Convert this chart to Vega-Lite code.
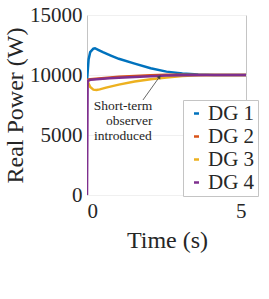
{
  "$schema": "https://vega.github.io/schema/vega-lite/v6.json",
  "width": 159,
  "height": 180,
  "autosize": {"type": "none"},
  "padding": {"left": 87, "top": 15, "right": 23, "bottom": 104},
  "background": "white",
  "config": {
    "font": "Liberation Serif",
    "view": {"stroke": "#c4c4c4", "strokeWidth": 1},
    "axis": {
      "domain": false,
      "ticks": false,
      "labelFont": "'Liberation Serif', serif",
      "labelColor": "#262626",
      "titleColor": "#262626",
      "titleFontWeight": "normal",
      "gridColor": "#f0f0f0",
      "gridWidth": 1
    },
    "legend": {"labelFont": "'Liberation Serif', serif"}
  },
  "datasets": {
    "series": [
      {"t": 0, "p": 9500, "s": "DG 1"},
      {"t": 0.05, "p": 11300, "s": "DG 1"},
      {"t": 0.1, "p": 11900, "s": "DG 1"},
      {"t": 0.2, "p": 12200, "s": "DG 1"},
      {"t": 0.25, "p": 12230, "s": "DG 1"},
      {"t": 0.35, "p": 12100, "s": "DG 1"},
      {"t": 0.5, "p": 11900, "s": "DG 1"},
      {"t": 0.75, "p": 11620, "s": "DG 1"},
      {"t": 1, "p": 11350, "s": "DG 1"},
      {"t": 1.5, "p": 10950, "s": "DG 1"},
      {"t": 2, "p": 10560, "s": "DG 1"},
      {"t": 2.5, "p": 10280, "s": "DG 1"},
      {"t": 3, "p": 10120, "s": "DG 1"},
      {"t": 3.5, "p": 10050, "s": "DG 1"},
      {"t": 4, "p": 10010, "s": "DG 1"},
      {"t": 5, "p": 10000, "s": "DG 1"},
      {"t": 0, "p": 9600, "s": "DG 2"},
      {"t": 0.1, "p": 9650, "s": "DG 2"},
      {"t": 1, "p": 9850, "s": "DG 2"},
      {"t": 2, "p": 9980, "s": "DG 2"},
      {"t": 2.5, "p": 10020, "s": "DG 2"},
      {"t": 3, "p": 10015, "s": "DG 2"},
      {"t": 4, "p": 10000, "s": "DG 2"},
      {"t": 5, "p": 10000, "s": "DG 2"},
      {"t": 0, "p": 9600, "s": "DG 3"},
      {"t": 0.05, "p": 9300, "s": "DG 3"},
      {"t": 0.1, "p": 9000, "s": "DG 3"},
      {"t": 0.2, "p": 8780, "s": "DG 3"},
      {"t": 0.3, "p": 8750, "s": "DG 3"},
      {"t": 0.4, "p": 8800, "s": "DG 3"},
      {"t": 0.6, "p": 8950, "s": "DG 3"},
      {"t": 1, "p": 9200, "s": "DG 3"},
      {"t": 1.5, "p": 9450, "s": "DG 3"},
      {"t": 2, "p": 9650, "s": "DG 3"},
      {"t": 2.5, "p": 9800, "s": "DG 3"},
      {"t": 3, "p": 9920, "s": "DG 3"},
      {"t": 3.5, "p": 9970, "s": "DG 3"},
      {"t": 4, "p": 10000, "s": "DG 3"},
      {"t": 5, "p": 10000, "s": "DG 3"},
      {"t": 0, "p": 0, "s": "DG 4"},
      {"t": 0.02, "p": 9500, "s": "DG 4"},
      {"t": 0.1, "p": 9600, "s": "DG 4"},
      {"t": 0.3, "p": 9650, "s": "DG 4"},
      {"t": 0.7, "p": 9720, "s": "DG 4"},
      {"t": 1, "p": 9780, "s": "DG 4"},
      {"t": 1.5, "p": 9840, "s": "DG 4"},
      {"t": 2, "p": 9900, "s": "DG 4"},
      {"t": 2.5, "p": 9950, "s": "DG 4"},
      {"t": 3, "p": 9980, "s": "DG 4"},
      {"t": 4, "p": 10000, "s": "DG 4"},
      {"t": 5, "p": 10000, "s": "DG 4"}
    ],
    "note": [
      {"t": 1.13, "p": 7417, "label": "Short-term"},
      {"t": 1.33, "p": 6167, "label": "observer"},
      {"t": 1.13, "p": 4917, "label": "introduced"}
    ],
    "arrow": [
      {"t": 1.76, "p": 7917, "t2": 2.28, "p2": 9850}
    ]
  },
  "layer": [
    {
      "data": {"name": "series"},
      "mark": {"type": "line", "strokeWidth": 2.5, "clip": true},
      "encoding": {
        "x": {
          "field": "t", "type": "quantitative",
          "scale": {"domain": [0, 5], "nice": false},
          "axis": {
            "values": [0, 5], "format": "d", "title": "Time (s)", "labelPadding": 5,
            "labelFont": "'Liberation Serif', serif", "labelFontSize": 21,
            "titleFont": "Liberation Serif", "titleFontSize": 24,
            "grid": false, "titleX": 80, "titleY": 52, "titleBaseline": "alphabetic"
          }
        },
        "y": {
          "field": "p", "type": "quantitative",
          "scale": {"domain": [0, 15000], "nice": false},
          "axis": {
            "values": [0, 5000, 10000, 15000], "format": "d", "title": "Real Power (W)",
            "labelFont": "'Liberation Serif', serif", "labelFontSize": 21,
            "titleFont": "Liberation Serif", "titleFontSize": 24,
            "labelPadding": 5, "grid": true,
            "titleX": -65, "titleY": 90, "titleAngle": -90, "titleBaseline": "alphabetic", "titleAlign": "center"
          }
        },
        "color": {
          "field": "s", "type": "nominal",
          "scale": {"domain": ["DG 1", "DG 2", "DG 3", "DG 4"], "range": ["#0072BD", "#D95319", "#EDB120", "#7E2F8E"]},
          "legend": {
            "title": null, "orient": "none", "legendX": 96, "legendY": 85,
            "labelFont": "'Liberation Serif', serif", "labelFontSize": 21, "labelColor": "#262626",
            "symbolType": "stroke", "symbolSize": 25, "symbolStrokeWidth": 2.5,
            "labelOffset": 1, "rowPadding": 1, "padding": 3,
            "strokeColor": "#c4c4c4", "fillColor": "white"
          }
        },
        "order": {"field": "t", "type": "quantitative"}
      }
    },
    {
      "data": {"name": "note"},
      "mark": {"type": "text", "fontSize": 13.5, "font": "Liberation Serif", "color": "#262626", "align": "center", "baseline": "middle"},
      "encoding": {
        "x": {"field": "t", "type": "quantitative"},
        "y": {"field": "p", "type": "quantitative"},
        "text": {"field": "label"}
      }
    },
    {
      "data": {"name": "arrow"},
      "mark": {"type": "rule", "color": "#404040", "strokeWidth": 0.8},
      "encoding": {
        "x": {"field": "t", "type": "quantitative"},
        "y": {"field": "p", "type": "quantitative"},
        "x2": {"field": "t2"},
        "y2": {"field": "p2"}
      }
    },
    {
      "data": {"name": "arrow"},
      "mark": {"type": "point", "shape": "triangle-up", "filled": true, "color": "#404040", "size": 18, "angle": 35, "opacity": 1},
      "encoding": {
        "x": {"field": "t2", "type": "quantitative"},
        "y": {"field": "p2", "type": "quantitative"}
      }
    }
  ]
}
